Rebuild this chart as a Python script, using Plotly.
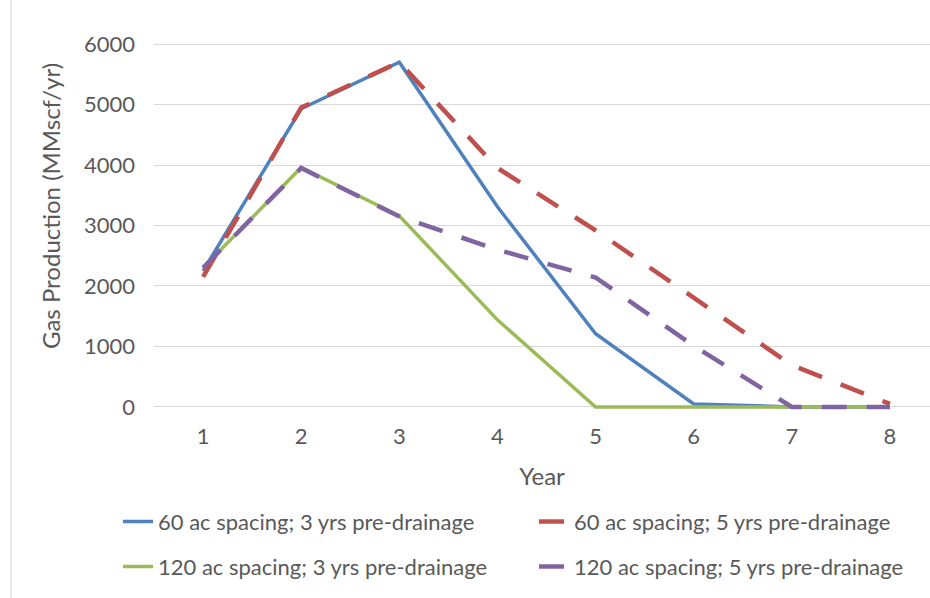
import plotly.graph_objects as go

years = [1, 2, 3, 4, 5, 6, 7, 8]
s60_3 = [2250, 4930, 5700, 3310, 1210, 50, 0, 0]
s60_5 = [2150, 4950, 5700, 3950, 2920, 1800, 690, 50]
s120_3 = [2300, 3960, 3160, 1440, 0, 0, 0, 0]
s120_5 = [2300, 3950, 3150, 2600, 2140, 1010, 0, 0]

names = ["60 ac spacing; 3 yrs pre-drainage", "60 ac spacing; 5 yrs pre-drainage",
         "120 ac spacing; 3 yrs pre-drainage", "120 ac spacing; 5 yrs pre-drainage"]
y_ticks = [0, 1000, 2000, 3000, 4000, 5000, 6000]

FONT = "Lato"
GREY = "#595959"
DASH = "25px,20px"
FS = 22
TFS = 24

fig = go.Figure()
fig.add_trace(go.Scatter(x=years, y=s60_3, name=names[0], mode="lines",
                         line=dict(color="#4F81BD", width=3.5), legend="legend"))
fig.add_trace(go.Scatter(x=years, y=s120_3, name=names[2], mode="lines",
                         line=dict(color="#9BBB59", width=3.5), legend="legend3"))
fig.add_trace(go.Scatter(x=years, y=s60_5, name=names[1], mode="lines",
                         line=dict(color="#C0504D", width=4.5, dash=DASH), legend="legend2"))
fig.add_trace(go.Scatter(x=years, y=s120_5, name=names[3], mode="lines",
                         line=dict(color="#8064A2", width=4.5, dash=DASH), legend="legend4"))

legend_common = dict(orientation="h", xanchor="left", yanchor="middle",
                     font=dict(family=FONT, size=FS, color=GREY),
                     bgcolor="rgba(0,0,0,0)")

LX1 = -0.0464
LX2 = 0.4897
LY1 = -0.29
LY2 = -0.41

fig.update_layout(
    width=930, height=598,
    margin=dict(l=154, r=0, t=38, b=185),
    paper_bgcolor="white", plot_bgcolor="white",
    font=dict(family=FONT, size=FS, color=GREY),
    showlegend=True,
    legend=dict(x=LX1, y=LY1, **legend_common),
    legend2=dict(x=LX2, y=LY1, **legend_common),
    legend3=dict(x=LX1, y=LY2, **legend_common),
    legend4=dict(x=LX2, y=LY2, **legend_common),
    xaxis=dict(range=[0.5, 8.408], tickmode="array", tickvals=years,
               ticktext=[str(v) for v in years], showgrid=False, ticks="",
               zeroline=False, showline=False, ticklabelstandoff=8,
               tickfont=dict(family=FONT, size=FS, color=GREY),
               title=dict(text="Year", standoff=20,
                          font=dict(family=FONT, size=TFS, color=GREY))),
    yaxis=dict(range=[-100, 6100], tickmode="array", tickvals=y_ticks,
               showgrid=True, gridcolor="#d9d9d9", gridwidth=1,
               zeroline=True, zerolinecolor="#d9d9d9", zerolinewidth=1,
               ticks="", ticklabelstandoff=18, showline=False,
               tickfont=dict(family=FONT, size=FS, color=GREY)),
    annotations=[dict(text="Gas Production (MMscf/yr)", textangle=-90,
                      xref="paper", yref="paper", x=-0.1327, y=0.552,
                      showarrow=False, xanchor="center", yanchor="middle",
                      font=dict(family=FONT, size=TFS, color=GREY))],
    shapes=[dict(type="line", xref="paper", yref="paper",
                 x0=-0.1843, x1=-0.1843, y0=-0.6, y1=1.2,
                 line=dict(color="#d0d0d0", width=1))],
)

fig.write_html("out.html")
